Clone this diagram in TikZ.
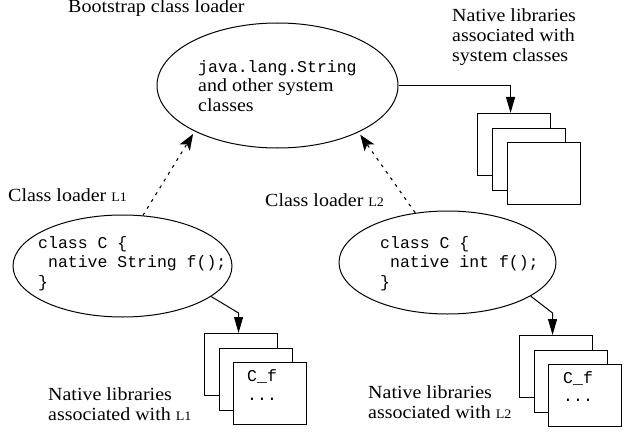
\documentclass[tikz,border=0pt]{standalone}
\usepackage{fontspec}
\setmainfont{Liberation Serif}[FakeStretch=1.08]
\newfontfamily\codefont{Liberation Mono}
\usetikzlibrary{arrows.meta,shapes.geometric}
\newcommand\ldname[1]{{\fontsize{13}{13}\selectfont #1}}
\tikzset{
  lbl/.style={font=\fontsize{18.5}{20}\selectfont, inner sep=0, anchor=base west, align=left},
  code/.style={font=\codefont\fontsize{16.5}{19.5}\selectfont, inner sep=0, anchor=base west, align=left},
  loader/.style={draw, ellipse, line width=1pt, inner sep=0},
  lib/.style={draw, line width=1.1pt, fill=white, minimum width=73pt, minimum height=62pt, inner sep=0, anchor=north west},
  link/.style={line width=1pt, -{Triangle[length=16pt,width=9pt]}},
  deleg/.style={line width=1.1pt, dash pattern=on 3pt off 5pt, -{Stealth[length=16pt,width=12pt,inset=4pt]}},
}
\begin{document}
\begin{tikzpicture}[x=1pt,y=-1pt]
\useasboundingbox (0,0) rectangle (628,441);

% loaders
\node[loader, minimum width=241pt, minimum height=125pt] (boot) at (277.5,85.5) {};
\node[loader, minimum width=219pt, minimum height=102pt] (l1) at (122.5,266) {};
\node[loader, minimum width=217pt, minimum height=103pt] (l2) at (447.5,262.5) {};

% labels (anchor = baseline of the last line)
\node[lbl] (tboot) at (68,13) {Bootstrap class loader};
\node[lbl] (tsys) at (452,62) {Native libraries\\associated with\\system classes};
\node[lbl] (tl1) at (8,201) {Class loader \ldname{L1}};
\node[lbl] (tl2) at (265,206) {Class loader \ldname{L2}};
\node[lbl] (tn1) at (48,420) {Native libraries\\associated with \ldname{L1}};
\node[lbl] (tn2) at (368,418) {Native libraries\\associated with \ldname{L2}};

% ellipse contents
\node[code] (cboot) at (198,73) {java.lang.String};
\node[lbl] (cboot2) at (198,111) {and other system\\classes};
\node[code] (cl1) at (38,287) {class C \{\\\ native String f();\\\}};
\node[code] (cl2) at (380,287) {class C \{\\\ native int f();\\\}};

% library stacks
\node[lib] (s1) at (477,113) {};
\node[lib] (s2) at (492,127.5) {};
\node[lib] (s3) at (507,142) {};

\node[lib] (a1) at (204,333) {};
\node[lib] (a2) at (218.5,347.5) {};
\node[lib] (a3) at (233,362) {};
\node[code] (fa) at (247,381) {C\_f};
\node[code] (da) at (247,400) {...};

\node[lib] (b1) at (519,335) {};
\node[lib] (b2) at (533.5,349.5) {};
\node[lib] (b3) at (548,364) {};
\node[code] (fb) at (563,383) {C\_f};
\node[code] (db) at (563,401) {...};

% connectors
\draw[link] (boot.east) -| ([xshift=-3.5pt]s1.north);
\draw[link] (l1.341) -- ([xshift=-2.5pt,yshift=20pt]a1.north) -- ([xshift=-2.5pt]a1.north);
\draw[link] (l2.338) -- ([xshift=-3.5pt,yshift=22pt]b1.north) -- ([xshift=-3.5pt]b1.north);
\draw[deleg, shorten >=3pt] (l1.68) -- (boot.209);
\draw[deleg, shorten >=3pt] (l2.123) -- (boot.330);
\end{tikzpicture}
\end{document}
